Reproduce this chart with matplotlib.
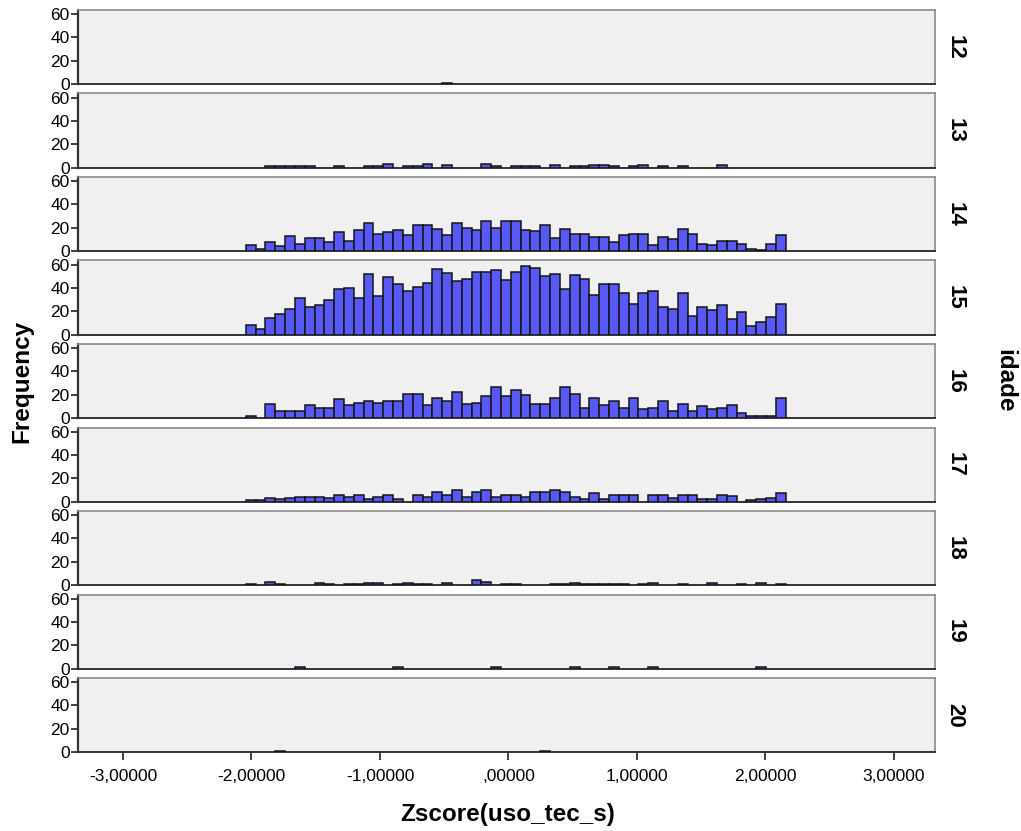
import numpy as np
import matplotlib
matplotlib.use("Agg")
import matplotlib.pyplot as plt
from matplotlib.ticker import FuncFormatter

plt.rcParams['font.family'] = ['Liberation Sans', 'DejaVu Sans']

# Panels (idade) and histogram counts per bin (55 bins)
ages = ["12", "13", "14", "15", "16", "17", "18", "19", "20"]
bin_start = -2.044
bin_width = 0.0764

age12 = [0,0,0,0,0,0,0,0,0,0, 0,0,0,0,0,0,0,0,0,0, 1,0,0,0,0,0,0,0,0,0,
         0,0,0,0,0,0,0,0,0,0, 0,0,0,0,0,0,0,0,0,0, 0,0,0,0,0]
age13 = [0,0,1,1,1,1,1,0,0,1, 0,0,1,1,3,0,1,1,3,0, 2,0,0,0,3,1,0,1,1,1,
         0,2,0,1,1,2,2,1,0,1, 2,0,1,0,1,0,0,0,2,0, 0,0,0,0,0]
age14 = [5,2,8,4,13,6,11,11,8,16, 9,18,24,15,16,18,14,22,22,19, 14,24,20,18,26,20,26,26,18,17,
         22,11,19,15,15,12,12,8,14,15, 15,5,12,10,19,15,6,5,9,9, 6,2,1,6,14]
age15 = [8,5,14,18,22,31,24,25,30,39, 40,31,52,33,49,43,37,41,44,56, 53,46,48,54,54,55,47,54,59,57,
         50,52,39,51,48,34,43,43,36,26, 36,37,24,22,36,16,24,21,25,13, 19,7,11,15,26]
age16 = [2,0,12,6,6,6,11,9,9,16, 11,13,15,13,15,15,21,21,11,17, 15,22,12,13,19,27,19,24,20,12,
         12,17,27,21,9,17,11,15,9,17, 8,9,15,6,12,6,10,8,9,11, 4,2,2,2,17]
age17 = [1,1,3,2,3,4,4,4,3,6, 4,6,2,4,6,2,0,6,4,8, 6,10,4,8,10,4,6,6,4,8,
         8,10,8,4,2,7,2,6,6,6, 0,6,6,3,6,6,2,2,6,5, 0,1,2,3,7]
age18 = [1,0,3,1,0,0,0,2,1,0, 1,1,2,2,0,1,2,1,1,0, 2,0,0,4,3,0,1,1,0,0,
         0,1,1,2,1,1,1,1,1,0, 1,2,0,0,1,0,0,2,0,0, 1,0,2,0,1]
age19 = [0,0,0,0,0,1,0,0,0,0, 0,0,0,0,0,1,0,0,0,0, 0,0,0,0,0,1,0,0,0,0,
         0,0,0,1,0,0,0,1,0,0, 0,1,0,0,0,0,0,0,0,0, 0,0,1,0,0]
age20 = [0,0,0,1,0,0,0,0,0,0, 0,0,0,0,0,0,0,0,0,0, 0,0,0,0,0,0,0,0,0,0,
         1,0,0,0,0,0,0,0,0,0, 0,0,0,0,0,0,0,0,0,0, 0,0,0,0,0]

counts = [age12, age13, age14, age15, age16, age17, age18, age19, age20]
xticks = [-3, -2, -1, 0, 1, 2, 3]


def fmt(v, pos):
    s = f"{v:.5f}".replace(".", ",")
    if s.startswith("0,"):
        s = s[1:]
    return s


fig, axes = plt.subplots(9, 1, sharex=True, figsize=(10.21, 8.31), dpi=100)
fig.subplots_adjust(left=0.0764, right=0.9158, top=0.988, bottom=0.095, hspace=0.128)

for ax, age, c in zip(axes, ages, counts):
    c = np.array(c)
    lefts = bin_start + bin_width * np.arange(len(c))
    keep = c > 0
    ax.bar(lefts[keep], c[keep], width=bin_width, align='edge',
           color='#5858f6', edgecolor='#151515', linewidth=1.1, zorder=3)
    ax.set_facecolor('#f0f0f0')
    ax.set_xlim(-3.35, 3.32)
    ax.set_ylim(0, 63.5)
    ax.set_yticks([0, 20, 40, 60])
    ax.tick_params(axis='y', direction='out', length=5, width=1.3,
                   color='#333333', labelsize=12.5, pad=1)
    ax.tick_params(axis='x', direction='out', length=6, width=1.3,
                   color='#333333', labelsize=12.5, bottom=False)
    for side in ['top', 'right']:
        ax.spines[side].set_color('#8a8a8a')
        ax.spines[side].set_linewidth(1.2)
    ax.spines['left'].set_color('#333333')
    ax.spines['left'].set_linewidth(1.6)
    ax.spines['bottom'].set_color('#333333')
    ax.spines['bottom'].set_linewidth(1.4)
    ax.text(1 + 20 / 857, 0.5, age, transform=ax.transAxes, rotation=-90,
            ha='center', va='center', fontsize=16, fontweight='bold')

axes[-1].set_xticks(xticks)
axes[-1].xaxis.set_major_formatter(FuncFormatter(fmt))
axes[-1].tick_params(axis='x', bottom=True, pad=6)

fig.text(22 / 1021, 1 - 381 / 831, "Frequency", rotation=90, ha='center',
         va='center', fontsize=17.5, fontweight='bold')
fig.text(1005 / 1021, 1 - 381 / 831, "idade", rotation=-90, ha='center',
         va='center', fontsize=17.5, fontweight='bold')
fig.text(508 / 1021, 1 - 815 / 831, "Zscore(uso_tec_s)", ha='center',
         va='center', fontsize=17.5, fontweight='bold')

fig.savefig("out.png", dpi=100)
